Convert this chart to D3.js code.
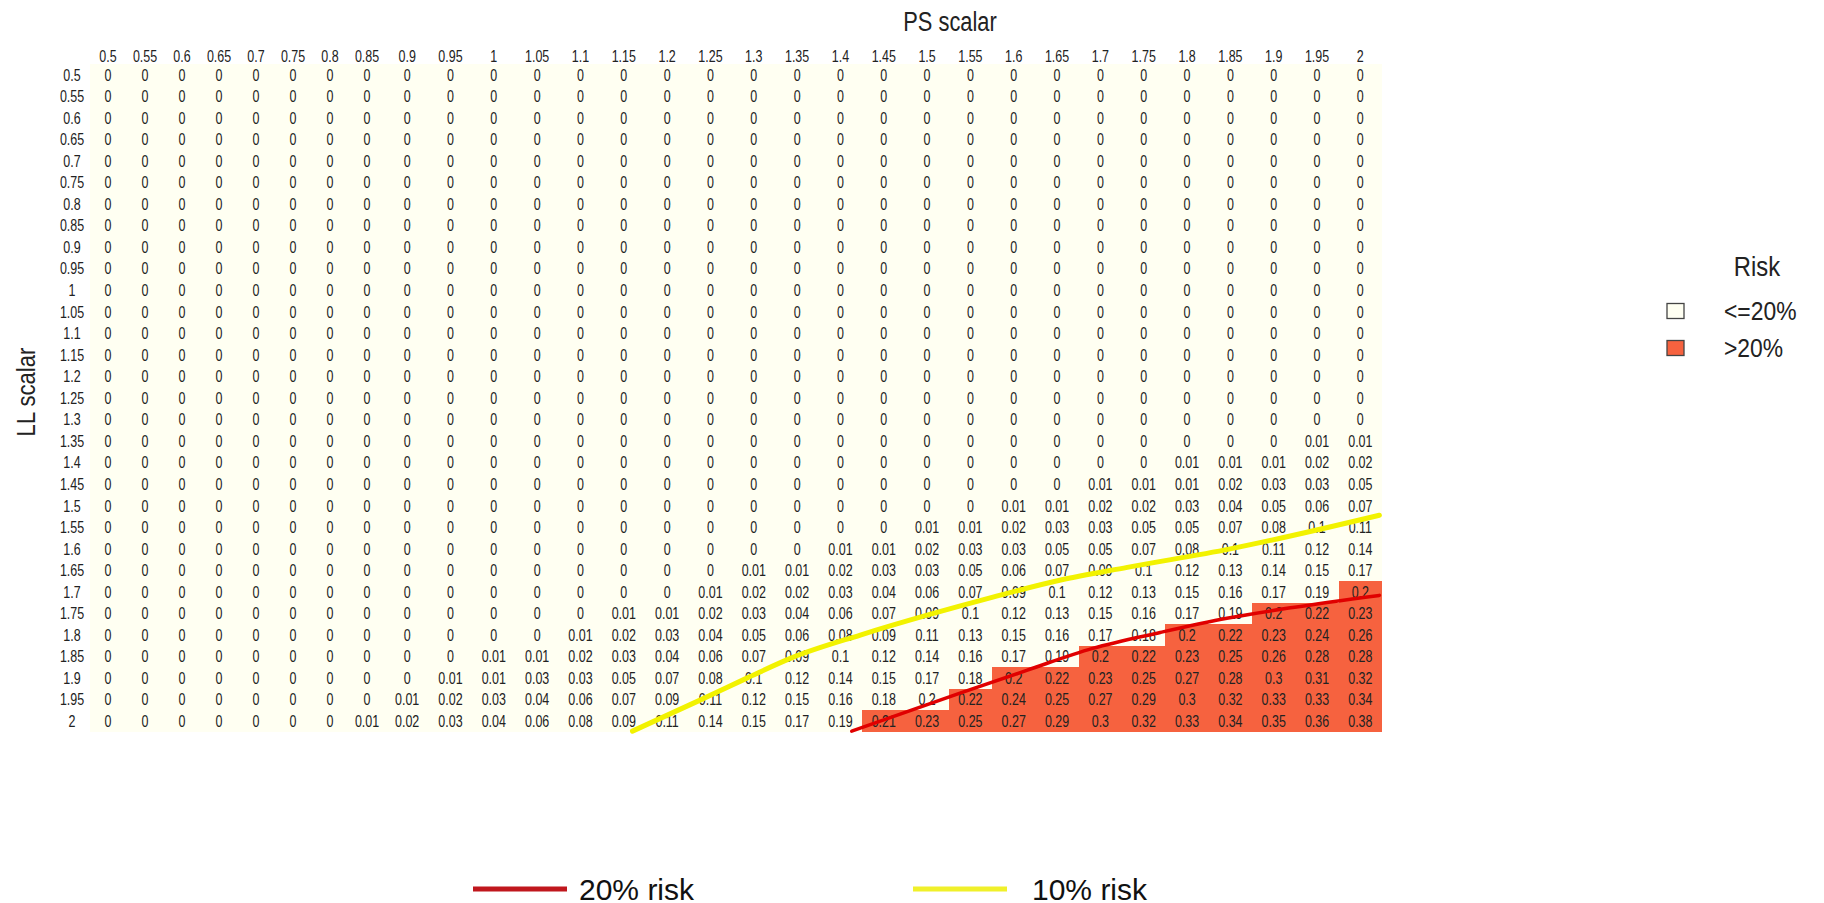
<!DOCTYPE html>
<html>
<head>
<meta charset="utf-8">
<script src="https://cdn.jsdelivr.net/npm/d3@7"></script>
<style>
  body { margin: 0; background: #fff; }
  svg text { font-family: "Liberation Sans", Arial, sans-serif; }
</style>
</head>
<body>
<svg id="chart" width="1824" height="903"></svg>
<script>
// PS scalar (columns) and LL scalar (rows)
const psValues = [0.5,0.55,0.6,0.65,0.7,0.75,0.8,0.85,0.9,0.95,1,1.05,1.1,1.15,1.2,1.25,1.3,1.35,1.4,1.45,1.5,1.55,1.6,1.65,1.7,1.75,1.8,1.85,1.9,1.95,2];
const llValues = [0.5,0.55,0.6,0.65,0.7,0.75,0.8,0.85,0.9,0.95,1,1.05,1.1,1.15,1.2,1.25,1.3,1.35,1.4,1.45,1.5,1.55,1.6,1.65,1.7,1.75,1.8,1.85,1.9,1.95,2];
const psLabels = ["0.5","0.55","0.6","0.65","0.7","0.75","0.8","0.85","0.9","0.95","1","1.05","1.1","1.15","1.2","1.25","1.3","1.35","1.4","1.45","1.5","1.55","1.6","1.65","1.7","1.75","1.8","1.85","1.9","1.95","2"];
const llLabels = psLabels.slice();

// risk per LL row, one value per PS column
const risk = [
  [0,0,0,0,0,0,0,0,0,0,0,0,0,0,0,0,0,0,0,0,0,0,0,0,0,0,0,0,0,0,0],
  [0,0,0,0,0,0,0,0,0,0,0,0,0,0,0,0,0,0,0,0,0,0,0,0,0,0,0,0,0,0,0],
  [0,0,0,0,0,0,0,0,0,0,0,0,0,0,0,0,0,0,0,0,0,0,0,0,0,0,0,0,0,0,0],
  [0,0,0,0,0,0,0,0,0,0,0,0,0,0,0,0,0,0,0,0,0,0,0,0,0,0,0,0,0,0,0],
  [0,0,0,0,0,0,0,0,0,0,0,0,0,0,0,0,0,0,0,0,0,0,0,0,0,0,0,0,0,0,0],
  [0,0,0,0,0,0,0,0,0,0,0,0,0,0,0,0,0,0,0,0,0,0,0,0,0,0,0,0,0,0,0],
  [0,0,0,0,0,0,0,0,0,0,0,0,0,0,0,0,0,0,0,0,0,0,0,0,0,0,0,0,0,0,0],
  [0,0,0,0,0,0,0,0,0,0,0,0,0,0,0,0,0,0,0,0,0,0,0,0,0,0,0,0,0,0,0],
  [0,0,0,0,0,0,0,0,0,0,0,0,0,0,0,0,0,0,0,0,0,0,0,0,0,0,0,0,0,0,0],
  [0,0,0,0,0,0,0,0,0,0,0,0,0,0,0,0,0,0,0,0,0,0,0,0,0,0,0,0,0,0,0],
  [0,0,0,0,0,0,0,0,0,0,0,0,0,0,0,0,0,0,0,0,0,0,0,0,0,0,0,0,0,0,0],
  [0,0,0,0,0,0,0,0,0,0,0,0,0,0,0,0,0,0,0,0,0,0,0,0,0,0,0,0,0,0,0],
  [0,0,0,0,0,0,0,0,0,0,0,0,0,0,0,0,0,0,0,0,0,0,0,0,0,0,0,0,0,0,0],
  [0,0,0,0,0,0,0,0,0,0,0,0,0,0,0,0,0,0,0,0,0,0,0,0,0,0,0,0,0,0,0],
  [0,0,0,0,0,0,0,0,0,0,0,0,0,0,0,0,0,0,0,0,0,0,0,0,0,0,0,0,0,0,0],
  [0,0,0,0,0,0,0,0,0,0,0,0,0,0,0,0,0,0,0,0,0,0,0,0,0,0,0,0,0,0,0],
  [0,0,0,0,0,0,0,0,0,0,0,0,0,0,0,0,0,0,0,0,0,0,0,0,0,0,0,0,0,0,0],
  [0,0,0,0,0,0,0,0,0,0,0,0,0,0,0,0,0,0,0,0,0,0,0,0,0,0,0,0,0,0.01,0.01],
  [0,0,0,0,0,0,0,0,0,0,0,0,0,0,0,0,0,0,0,0,0,0,0,0,0,0,0.01,0.01,0.01,0.02,0.02],
  [0,0,0,0,0,0,0,0,0,0,0,0,0,0,0,0,0,0,0,0,0,0,0,0,0.01,0.01,0.01,0.02,0.03,0.03,0.05],
  [0,0,0,0,0,0,0,0,0,0,0,0,0,0,0,0,0,0,0,0,0,0,0.01,0.01,0.02,0.02,0.03,0.04,0.05,0.06,0.07],
  [0,0,0,0,0,0,0,0,0,0,0,0,0,0,0,0,0,0,0,0,0.01,0.01,0.02,0.03,0.03,0.05,0.05,0.07,0.08,0.1,0.11],
  [0,0,0,0,0,0,0,0,0,0,0,0,0,0,0,0,0,0,0.01,0.01,0.02,0.03,0.03,0.05,0.05,0.07,0.08,0.1,0.11,0.12,0.14],
  [0,0,0,0,0,0,0,0,0,0,0,0,0,0,0,0,0.01,0.01,0.02,0.03,0.03,0.05,0.06,0.07,0.09,0.1,0.12,0.13,0.14,0.15,0.17],
  [0,0,0,0,0,0,0,0,0,0,0,0,0,0,0,0.01,0.02,0.02,0.03,0.04,0.06,0.07,0.09,0.1,0.12,0.13,0.15,0.16,0.17,0.19,0.201],
  [0,0,0,0,0,0,0,0,0,0,0,0,0,0.01,0.01,0.02,0.03,0.04,0.06,0.07,0.09,0.1,0.12,0.13,0.15,0.16,0.17,0.19,0.201,0.22,0.23],
  [0,0,0,0,0,0,0,0,0,0,0,0,0.01,0.02,0.03,0.04,0.05,0.06,0.08,0.09,0.11,0.13,0.15,0.16,0.17,0.18,0.201,0.22,0.23,0.24,0.26],
  [0,0,0,0,0,0,0,0,0,0,0.01,0.01,0.02,0.03,0.04,0.06,0.07,0.09,0.1,0.12,0.14,0.16,0.17,0.19,0.201,0.22,0.23,0.25,0.26,0.28,0.28],
  [0,0,0,0,0,0,0,0,0,0.01,0.01,0.03,0.03,0.05,0.07,0.08,0.1,0.12,0.14,0.15,0.17,0.18,0.201,0.22,0.23,0.25,0.27,0.28,0.3,0.31,0.32],
  [0,0,0,0,0,0,0,0,0.01,0.02,0.03,0.04,0.06,0.07,0.09,0.11,0.12,0.15,0.16,0.18,0.199,0.22,0.24,0.25,0.27,0.29,0.3,0.32,0.33,0.33,0.34],
  [0,0,0,0,0,0,0,0.01,0.02,0.03,0.04,0.06,0.08,0.09,0.11,0.14,0.15,0.17,0.19,0.21,0.23,0.25,0.27,0.29,0.3,0.32,0.33,0.34,0.35,0.36,0.38]
];

// hand-drawn risk contours, in [PS, LL]
const line10 = [[1.16,2.023],[1.238,1.951],[1.292,1.9],[1.345,1.852],[1.423,1.8],[1.5,1.754],[1.576,1.712],[1.653,1.673],[1.731,1.643],[1.85,1.6],[2.022,1.522]];
const line20 = [[1.413,2.023],[1.538,1.935],[1.615,1.882],[1.691,1.831],[1.769,1.794],[1.846,1.761],[1.922,1.736],[2.022,1.708]];

const legendItems = ["<=20%", ">20%"];
const lineLegend = [{label: "20% risk", color: "#c0171d"}, {label: "10% risk", color: "#f0f02a"}];

const threshold = 0.2;
const step = 0.05;
const svg = d3.select("#chart");

// columns are narrower on the left, as in the original table
const x = d3.scaleLinear().domain([0.475, 0.875, 2.025]).range([89.5, 385.5, 1382]);
const y = d3.scaleLinear().domain([0.475, 2.025]).range([64, 732]);
const squeeze = 0.78;
const fmt = v => String(+v.toFixed(2));

const cells = [];
risk.forEach((row, i) => row.forEach((v, j) => cells.push({ll: llValues[i], ps: psValues[j], v})));

const grid = svg.append("g");
grid.selectAll("rect")
  .data(cells)
  .join("rect")
  .attr("x", d => x(d.ps - step / 2))
  .attr("y", d => y(d.ll - step / 2))
  .attr("width", d => x(d.ps + step / 2) - x(d.ps - step / 2))
  .attr("height", d => y(d.ll + step / 2) - y(d.ll - step / 2))
  .attr("fill", d => d.v > threshold ? "#f6623f" : "#fffff2")
  .attr("shape-rendering", "crispEdges");

grid.selectAll("text")
  .data(cells)
  .join("text")
  .attr("transform", d => `translate(${x(d.ps)},${y(d.ll)}) scale(${squeeze},1)`)
  .attr("text-anchor", "middle")
  .attr("dy", "0.36em")
  .attr("font-size", 16)
  .attr("fill", "#222")
  .text(d => fmt(d.v));

// column header
svg.append("g").selectAll("text")
  .data(psValues)
  .join("text")
  .attr("transform", (d) => `translate(${x(d)},${y(0.5) - 19}) scale(${squeeze},1)`)
  .attr("text-anchor", "middle")
  .attr("dy", "0.36em")
  .attr("font-size", 16)
  .attr("fill", "#222")
  .text((d, i) => psLabels[i]);

// row header
svg.append("g").selectAll("text")
  .data(llValues)
  .join("text")
  .attr("transform", d => `translate(72,${y(d)}) scale(${squeeze},1)`)
  .attr("text-anchor", "middle")
  .attr("dy", "0.36em")
  .attr("font-size", 16)
  .attr("fill", "#222")
  .text((d, i) => llLabels[i]);

svg.append("text")
  .attr("transform", `translate(950,21) scale(${squeeze},1)`)
  .attr("text-anchor", "middle")
  .attr("dy", "0.36em")
  .attr("font-size", 28)
  .attr("fill", "#222")
  .text("PS scalar");

svg.append("text")
  .attr("transform", `translate(26,392) rotate(-90) scale(0.85,1)`)
  .attr("text-anchor", "middle")
  .attr("dy", "0.36em")
  .attr("font-size", 26)
  .attr("fill", "#222")
  .text("LL scalar");

// contour lines
const line = d3.line().x(d => x(d[0])).y(d => y(d[1])).curve(d3.curveMonotoneX);
svg.append("path").datum(line10)
  .attr("d", line).attr("fill", "none")
  .attr("stroke", "#f2f200").attr("stroke-width", 5).attr("stroke-linecap", "round");
svg.append("path").datum(line20)
  .attr("d", line).attr("fill", "none")
  .attr("stroke", "#e00000").attr("stroke-width", 3.5).attr("stroke-linecap", "round");

// fill legend
const leg = svg.append("g");
leg.append("text")
  .attr("transform", `translate(1757,266) scale(0.85,1)`)
  .attr("text-anchor", "middle")
  .attr("dy", "0.36em")
  .attr("font-size", 28)
  .attr("fill", "#222")
  .text("Risk");
const legRows = leg.selectAll("g.item")
  .data(legendItems)
  .join("g")
  .attr("class", "item")
  .attr("transform", (d, i) => `translate(1667,${311 + i * 37})`);
legRows.append("rect")
  .attr("x", 0).attr("y", -7.5).attr("width", 17).attr("height", 15)
  .attr("fill", (d, i) => i ? "#f6623f" : "#fffff2")
  .attr("stroke", "#444").attr("stroke-width", 1.3);
legRows.append("text")
  .attr("transform", `translate(57,0) scale(0.88,1)`)
  .attr("dy", "0.36em")
  .attr("font-size", 26)
  .attr("fill", "#222")
  .text(d => d);

// line legend
const lleg = svg.append("g").selectAll("g")
  .data(lineLegend)
  .join("g")
  .attr("transform", (d, i) => `translate(${473 + i * 440},889)`);
lleg.append("line")
  .attr("x1", 0).attr("x2", 94)
  .attr("stroke", d => d.color).attr("stroke-width", 5);
lleg.append("text")
  .attr("x", (d, i) => i ? 119 : 106)
  .attr("dy", "0.36em")
  .attr("font-family", "Lato, 'Open Sans', sans-serif")
  .attr("font-size", 30)
  .attr("fill", "#111")
  .text(d => d.label);
</script>
</body>
</html>
